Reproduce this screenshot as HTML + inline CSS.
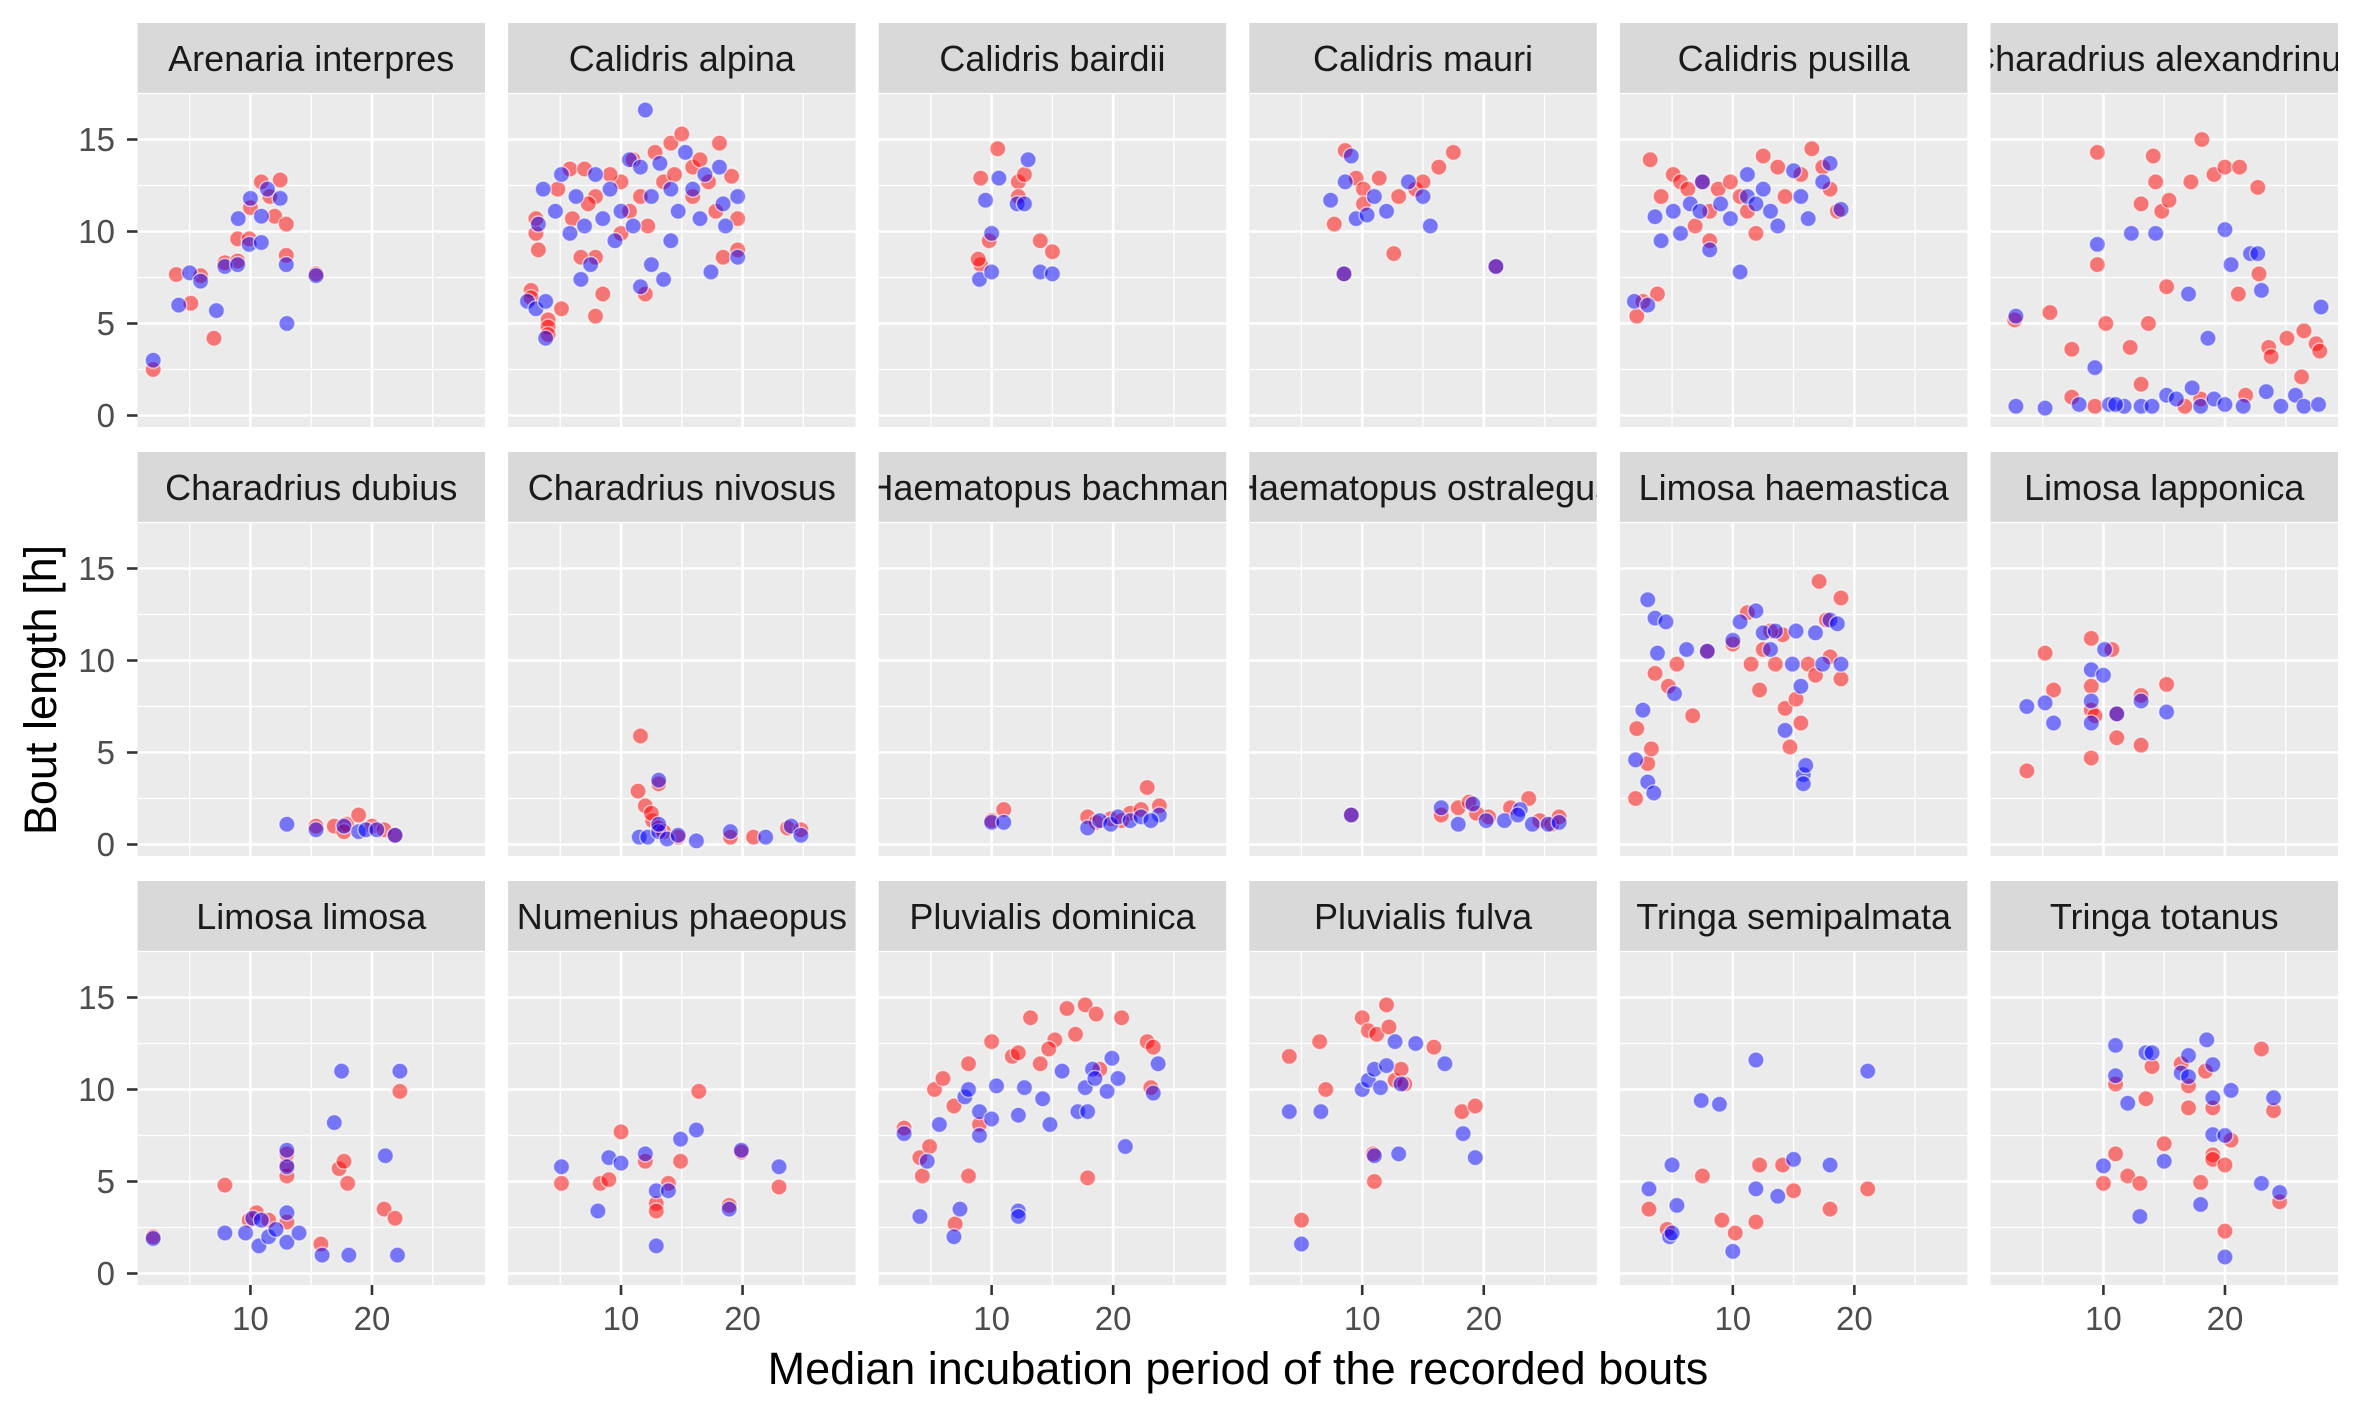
<!DOCTYPE html>
<html><head><meta charset="utf-8"><style>
html,body{margin:0;padding:0;background:#fff;}
svg{display:block;font-family:"Liberation Sans",Arial,sans-serif;}
</style></head><body>
<svg id="chart" width="2362" height="1417" viewBox="0 0 2362 1417" xmlns="http://www.w3.org/2000/svg">
<text transform="translate(56,690) rotate(-90)" text-anchor="middle" font-size="45" fill="#000">Bout length [h]</text>
<text x="1238" y="1384" text-anchor="middle" font-size="45" fill="#000">Median incubation period of the recorded bouts</text>
</svg>
<script>
const species = ["Arenaria interpres","Calidris alpina","Calidris bairdii","Calidris mauri","Calidris pusilla","Charadrius alexandrinus","Charadrius dubius","Charadrius nivosus","Haematopus bachmani","Haematopus ostralegus","Limosa haemastica","Limosa lapponica","Limosa limosa","Numenius phaeopus","Pluvialis dominica","Pluvialis fulva","Tringa semipalmata","Tringa totanus"];
const yTicks = [0,5,10,15];
const xTicks = [10,20];

const arenariaRed = [[2,2.5],[3.9,7.66],[5.1,6.1],[5.9,7.6],[7,4.2],[7.9,8.3],[8.95,8.4],[8.95,9.6],[9.9,9.6],[10,11.3],[10.9,12.7],[12.45,12.8],[12,10.83],[12.95,10.4],[12.95,8.7],[15.4,7.7],[11.6,11.9]];
const arenariaBlue = [[2,3],[4.1,6],[5,7.75],[5.9,7.3],[7.2,5.7],[7.9,8.1],[8.95,8.2],[9,10.7],[9.9,9.3],[10.9,9.4],[10,11.8],[11.4,12.3],[12.45,11.8],[10.9,10.83],[12.95,8.2],[15.4,7.6],[13,5]];

const alpinaRed = [[2.6,6.8],[2.6,6.4],[4,5.2],[4,4.8],[4,4.4],[3,9.9],[3,10.7],[3.2,9],[4.8,12.3],[5.8,13.4],[7,13.4],[7.9,11.9],[6,10.7],[7.9,8.6],[7.9,5.4],[10,9.9],[10,12.7],[11,13.9],[11.6,11.9],[12.2,10.3],[12.8,14.3],[14.1,14.8],[15,15.3],[15.9,13.5],[17.2,12.7],[18.1,14.8],[17.8,11.1],[18.4,8.6],[19.6,10.7],[19.6,9],[19.1,13],[13.5,12.7],[9.1,13.1],[8.5,6.6],[12,6.6],[15.9,11.9],[5.1,5.8],[6.7,8.6],[10.7,11.1],[14.4,13.1],[16.5,13.9],[7.3,11.5]];
const alpinaBlue = [[2.3,6.2],[3,5.8],[3.8,4.2],[3.8,6.2],[3.2,10.4],[3.6,12.3],[4.6,11.1],[5.1,13.1],[6.3,11.9],[7,10.3],[7.5,8.2],[7.9,13.1],[9.1,12.3],[10,11.1],[10.7,13.9],[11.6,13.5],[12,16.6],[12.5,11.9],[12.5,8.2],[13.2,13.7],[13.5,7.4],[14.1,12.3],[14.7,11.1],[15.3,14.3],[15.9,12.3],[16.9,13.1],[17.4,7.8],[18.1,13.5],[18.4,11.5],[18.6,10.3],[19.6,11.9],[19.6,8.6],[11.6,7],[11,10.3],[8.5,10.7],[5.8,9.9],[14.1,9.5],[16.5,10.7],[9.5,9.5],[6.7,7.4]];

const bairdiiRed = [[9.1,12.9],[9.1,8.2],[10.5,14.5],[12.2,12.7],[12.7,13.1],[12.2,11.9],[14,9.5],[15,8.9],[9.8,9.5],[8.9,8.5]];
const bairdiiBlue = [[9,7.4],[9.5,11.7],[10,9.9],[10.6,12.9],[12.1,11.5],[12.7,11.5],[13,13.9],[14,7.8],[15,7.7],[10,7.8]];

const mauriRed = [[7.7,10.4],[8.6,14.4],[9.5,12.9],[10.1,12.3],[11.4,12.9],[12.6,8.8],[14.4,12.3],[15,12.7],[16.3,13.5],[17.5,14.3],[10.1,11.5],[13,11.9],[8.5,7.7],[21,8.1]];
const mauriBlue = [[7.4,11.7],[8.6,12.7],[9.1,14.1],[9.5,10.7],[10.4,10.9],[11,11.9],[12,11.1],[13.8,12.7],[15,11.9],[15.6,10.3],[8.5,7.7],[21,8.1]];

const pusillaRed = [[2.1,5.4],[2.6,6.2],[3.2,13.9],[3.8,6.6],[4.1,11.9],[5.1,13.1],[5.7,12.7],[6.3,12.3],[7.5,12.7],[8.1,11.1],[8.8,12.3],[9.8,12.7],[10.6,11.9],[11.2,11.1],[12.5,14.1],[13.7,13.5],[14.3,11.9],[15.6,13.1],[16.5,14.5],[17.4,13.5],[18,12.3],[18.6,11.1],[6.9,10.3],[11.9,9.9],[8.1,9.5]];
const pusillaBlue = [[1.9,6.2],[3,6],[3.6,10.8],[4.1,9.5],[5.1,11.1],[5.7,9.9],[6.5,11.5],[7.3,11.1],[8.1,9],[9,11.5],[9.8,10.7],[10.6,7.8],[11.2,11.9],[11.9,11.5],[12.5,12.3],[13.1,11.1],[13.7,10.3],[15,13.3],[15.6,11.9],[16.2,10.7],[17.4,12.7],[18,13.7],[18.9,11.2],[7.5,12.7],[11.2,13.1]];

const alexRed = [[2.7,5.2],[5.6,5.6],[7.4,3.6],[9.5,14.3],[9.5,8.2],[10.2,5],[12.2,3.7],[13.1,11.5],[14.1,14.1],[14.3,12.7],[14.8,11.1],[15.2,7],[13.7,5],[15.4,11.7],[17.2,12.7],[18.1,15],[19.1,13.1],[20,13.5],[21.2,13.5],[22.7,12.4],[21.1,6.6],[22.8,7.7],[23.6,3.7],[23.8,3.2],[25.1,4.2],[26.5,4.6],[27.5,3.9],[27.8,3.5],[26.3,2.1],[13.1,1.7],[18,0.9],[21.7,1.1],[7.4,1],[9.3,0.5],[16.7,0.5]];
const alexBlue = [[2.8,5.4],[2.8,0.5],[5.2,0.4],[8,0.6],[9.5,9.3],[9.3,2.6],[10.5,0.6],[11.7,0.5],[12.3,9.9],[13.1,0.5],[14,0.5],[14.3,9.9],[15.2,1.1],[16,0.9],[17,6.6],[17.3,1.5],[18,0.5],[18.6,4.2],[19.1,0.9],[20,10.1],[20,0.6],[20.5,8.2],[21.5,0.5],[22.1,8.8],[22.7,8.8],[23,6.8],[23.4,1.3],[24.6,0.5],[25.8,1.1],[26.5,0.5],[27.7,0.6],[27.9,5.9],[11,0.6]];

const dubiusRed = [[15.4,1],[16.9,1],[17.9,1.1],[18.9,1.6],[20,1],[21,0.8],[21.9,0.5],[17.7,0.7]];
const dubiusBlue = [[13,1.1],[15.4,0.8],[17.7,1],[18.9,0.7],[19.5,0.8],[20.4,0.8],[21.9,0.5]];

const nivosusRed = [[11.6,5.9],[11.4,2.9],[12,2.1],[13.1,3.3],[12.6,1.3],[13.1,0.9],[13.5,0.7],[14.7,0.4],[19,0.4],[20.9,0.4],[23.7,0.9],[24.8,0.8],[12.5,1.7]];
const nivosusBlue = [[11.5,0.4],[12.2,0.4],[13.1,3.5],[13.1,0.7],[13.8,0.3],[14.7,0.5],[16.2,0.2],[19,0.7],[21.9,0.4],[24,1],[24.8,0.5],[13.1,1.1]];

const bachmaniRed = [[10,1.3],[11,1.9],[17.9,1.5],[19.8,1.4],[21.4,1.7],[22.3,1.9],[22.8,3.1],[23.8,2.1],[20.7,1.3],[18.6,1.2]];
const bachmaniBlue = [[10,1.2],[11,1.2],[17.9,0.9],[18.9,1.3],[19.8,1.1],[20.4,1.5],[21.4,1.3],[22.3,1.5],[23.8,1.6],[23.1,1.3]];

const ostraRed = [[9.1,1.6],[16.5,1.6],[17.9,2],[18.8,2.3],[20.4,1.5],[22.2,2],[23.7,2.5],[24.6,1.3],[25.6,1.1],[26.2,1.5],[19.4,1.7]];
const ostraBlue = [[9.1,1.6],[16.5,2],[17.9,1.1],[19.1,2.2],[20.2,1.3],[21.7,1.3],[23,1.9],[24,1.1],[25.3,1.1],[26.2,1.2],[22.8,1.6]];

const haemRed = [[2,2.5],[2.1,6.3],[3,4.4],[3.3,5.2],[3.6,9.3],[4.7,8.6],[5.4,9.8],[6.7,7],[10,10.9],[11.5,9.8],[12.2,8.4],[12.5,10.6],[13.5,9.8],[14.3,7.4],[14.7,5.3],[15.2,7.9],[15.6,6.6],[16.2,9.8],[16.8,9.2],[17.1,14.3],[17.7,12.2],[18.9,13.4],[18.9,9],[11.2,12.6],[14.1,11.4],[18,10.2],[13.1,11.6],[7.9,10.5]];
const haemBlue = [[2,4.6],[2.6,7.3],[3,13.3],[3,3.4],[3.5,2.8],[3.6,12.3],[4.5,12.1],[3.8,10.4],[5.2,8.2],[6.2,10.6],[7.9,10.5],[10,11.1],[10.6,12.1],[11.9,12.7],[12.5,11.5],[13.5,11.6],[14.3,6.2],[15.2,11.6],[15.6,8.6],[15.8,3.8],[15.8,3.3],[16,4.3],[16.8,11.5],[17.4,9.8],[18,12.2],[18.6,12],[18.9,9.8],[14.9,9.8],[13.1,10.6]];

const lappRed = [[3.7,4],[5.2,10.4],[5.9,8.4],[9,11.2],[9,8.6],[9,7.3],[9,4.7],[10.7,10.6],[11.1,5.8],[13.1,5.4],[13.1,8.1],[15.2,8.7],[9.3,7],[11.1,7.1]];
const lappBlue = [[3.7,7.5],[5.2,7.7],[5.9,6.6],[9,9.5],[9,6.6],[9,7.8],[10.1,10.6],[11.1,7.1],[13.1,7.8],[15.2,7.2],[10,9.2]];

const limosaRed = [[2,2],[7.9,4.8],[9.9,2.9],[10.5,3.3],[11.5,2.9],[13,5.3],[13,5.9],[13,6.5],[13,2.8],[15.8,1.6],[17.3,5.7],[17.7,6.1],[18,4.9],[21,3.5],[21.9,3],[22.3,9.9]];
const limosaBlue = [[2,1.9],[7.9,2.2],[9.6,2.2],[10.2,3],[10.7,1.5],[11.5,2],[12.1,2.4],[13,3.3],[13,5.8],[13,6.7],[13,1.7],[14,2.2],[15.9,1],[16.9,8.2],[17.5,11],[18.1,1],[21.1,6.4],[22.1,1],[22.3,11],[10.9,2.9]];

const numRed = [[5.1,4.9],[8.3,4.9],[9,5.1],[10,7.7],[12,6.1],[12.9,3.8],[13.9,4.9],[14.9,6.1],[16.4,9.9],[18.9,3.7],[19.9,6.6],[23,4.7],[12.9,3.4]];
const numBlue = [[5.1,5.8],[8.1,3.4],[9,6.3],[10,6],[12,6.5],[12.9,4.5],[12.9,1.5],[13.9,4.5],[14.9,7.3],[16.2,7.8],[18.9,3.5],[19.9,6.7],[23,5.8]];

const domRed = [[2.8,7.9],[4.1,6.3],[4.3,5.3],[4.9,6.9],[5.3,10],[6,10.6],[6.9,9.1],[7,2.7],[8.1,11.4],[8.1,5.3],[9,8.1],[10,12.6],[11.7,11.8],[12.2,12],[13.2,13.9],[14,11.4],[15.2,12.7],[16.2,14.4],[16.9,13],[17.7,14.6],[17.9,5.2],[18.6,14.1],[18.9,11.1],[20.7,13.9],[22.8,12.6],[23.3,12.3],[23.1,10.1],[14.7,12.2]];
const domBlue = [[2.8,7.6],[4.1,3.1],[4.7,6.1],[5.7,8.1],[6.9,2],[7.4,3.5],[7.8,9.6],[8.1,10],[9,7.5],[9,8.8],[10,8.4],[10.4,10.2],[12.2,8.6],[12.2,3.4],[12.2,3.1],[12.7,10.1],[14.2,9.5],[14.8,8.1],[15.8,11],[17.1,8.8],[17.7,10.1],[17.9,8.8],[18.3,11.1],[18.5,10.6],[19.5,9.9],[19.9,11.7],[20.4,10.6],[21,6.9],[23.3,9.8],[23.7,11.4]];

const fulvaRed = [[4,11.8],[5,2.9],[6.5,12.6],[7,10],[10,13.9],[10.5,13.2],[11.2,13],[12,14.6],[12.2,13.4],[11,5],[12.7,10.5],[13.2,11.1],[15.9,12.3],[18.2,8.8],[19.3,9.1],[10.9,6.5],[13.5,10.3]];
const fulvaBlue = [[4,8.8],[5,1.6],[6.6,8.8],[10,10],[10.5,10.5],[11,11.1],[11.5,10.1],[12,11.3],[12.7,12.6],[13.2,10.3],[14.4,12.5],[13,6.5],[16.8,11.4],[18.3,7.6],[19.3,6.3],[11,6.4]];

const semiRed = [[3.1,3.5],[4.6,2.4],[7.5,5.3],[9.1,2.9],[10.2,2.2],[11.9,2.8],[12.2,5.9],[14.1,5.9],[15,4.5],[18,3.5],[21.1,4.6]];
const semiBlue = [[3.1,4.6],[4.8,2],[5,5.9],[5.4,3.7],[7.4,9.4],[8.9,9.2],[10,1.2],[11.9,11.6],[11.9,4.6],[13.7,4.2],[15,6.2],[18,5.9],[21.1,11],[5,2.2]];

const totanusRed = [[14,11.25],[23,12.2],[16.4,11.4],[17,10.2],[18.4,11],[11,10.3],[13.5,9.5],[17,9],[19,9],[24,8.85],[15,7.05],[11,6.5],[10,4.9],[12,5.3],[13,4.9],[20.5,7.25],[19,6.45],[19,6.2],[20,5.9],[18,4.95],[20,2.3],[24.5,3.9]];
const totanusBlue = [[11,12.4],[13.5,12],[14,12],[18.5,12.7],[16.4,10.9],[17,11.85],[17,10.7],[19,11.35],[11,10.75],[12,9.25],[19,9.55],[20.5,9.95],[24,9.55],[15,6.1],[10,5.85],[13,3.1],[19,7.55],[20,7.5],[18,3.75],[20,0.9],[23,4.9],[24.5,4.4]];

const redSeries = [arenariaRed,alpinaRed,bairdiiRed,mauriRed,pusillaRed,alexRed,dubiusRed,nivosusRed,bachmaniRed,ostraRed,haemRed,lappRed,limosaRed,numRed,domRed,fulvaRed,semiRed,totanusRed];
const blueSeries = [arenariaBlue,alpinaBlue,bairdiiBlue,mauriBlue,pusillaBlue,alexBlue,dubiusBlue,nivosusBlue,bachmaniBlue,ostraBlue,haemBlue,lappBlue,limosaBlue,numBlue,domBlue,fulvaBlue,semiBlue,totanusBlue];

const NS = "http://www.w3.org/2000/svg";
const svg = document.getElementById("chart");
const PW = 347.5, COLSTEP = 370.6, ROWSTEP = 429;
const XMIN = 0.71, XMAX = 29.3, YPX = 18.4;
function mk(tag, attrs, parent){const e=document.createElementNS(NS,tag);for(const k in attrs)e.setAttribute(k,attrs[k]);(parent||svg).appendChild(e);return e;}
function xScale(c,v){const L=137.5+COLSTEP*c;return L+(v-XMIN)/(XMAX-XMIN)*PW;}
function yScale(r,v){return 415.5+ROWSTEP*r - v*YPX;}
const defs = mk("defs",{});
species.forEach((name,i)=>{
  const c=i%6, r=Math.floor(i/6);
  const L=137.5+COLSTEP*c, T=93+ROWSTEP*r, B=427+ROWSTEP*r;
  const g=mk("g",{});
  
  
  const strip=mk("rect",{x:L,y:23+ROWSTEP*r,width:PW,height:70,fill:"#d9d9d9"},g);
  
  
  const cp=mk("clipPath",{id:"clip"+i},defs);
  mk("rect",{x:L,y:23+ROWSTEP*r,width:PW,height:70},cp);
  const st=mk("text",{x:L+PW/2,y:23+ROWSTEP*r+48,"text-anchor":"middle","font-size":"36",fill:"#1a1a1a","clip-path":"url(#clip"+i+")"},g);
  st.textContent=name;
  
  
  const bg=mk("rect",{x:L,y:T,width:PW,height:B-T,fill:"#ebebeb"},g);
  
  
  [2.5,7.5,12.5,17.5].forEach(v=>{const y=yScale(r,v);if(y>T)mk("line",{x1:L,x2:L+PW,y1:y,y2:y,stroke:"#fff","stroke-width":1.3},g);});
  [5,15,25].forEach(v=>{const x=xScale(c,v);mk("line",{x1:x,x2:x,y1:T,y2:B,stroke:"#fff","stroke-width":1.3},g);});
  yTicks.forEach(v=>{const y=yScale(r,v);mk("line",{x1:L,x2:L+PW,y1:y,y2:y,stroke:"#fff","stroke-width":2.6},g);});
  xTicks.forEach(v=>{const x=xScale(c,v);mk("line",{x1:x,x2:x,y1:T,y2:B,stroke:"#fff","stroke-width":2.6},g);});
  if(c===0){
    yTicks.forEach(v=>{const y=yScale(r,v);
      mk("line",{x1:127,x2:137.5,y1:y,y2:y,stroke:"#333","stroke-width":2.6},g);
      const t=mk("text",{x:115,y:y+11.5,"text-anchor":"end","font-size":"33",fill:"#4d4d4d"},g);
      t.textContent=v;
      
      
    });
  }
  if(r===2){
    xTicks.forEach(v=>{const x=xScale(c,v);
      mk("line",{x1:x,x2:x,y1:B,y2:B+10,stroke:"#333","stroke-width":2.6},g);
      const t=mk("text",{x:x,y:B+45,"text-anchor":"middle","font-size":"33",fill:"#4d4d4d"},g);
      t.textContent=v;
      
      
    });
  }
  redSeries[i].forEach(p=>{
    const d=mk("circle",{cx:xScale(c,p[0]),cy:yScale(r,p[1]),r:8,fill:"rgba(255,0,0,0.5)",stroke:"rgba(255,255,255,0.6)","stroke-width":1.5},g);
    
    
  });
  blueSeries[i].forEach(p=>{
    const d=mk("circle",{cx:xScale(c,p[0]),cy:yScale(r,p[1]),r:8,fill:"rgba(0,0,255,0.5)",stroke:"rgba(255,255,255,0.6)","stroke-width":1.5},g);
    
    
  });
});
</script>
</body></html>
